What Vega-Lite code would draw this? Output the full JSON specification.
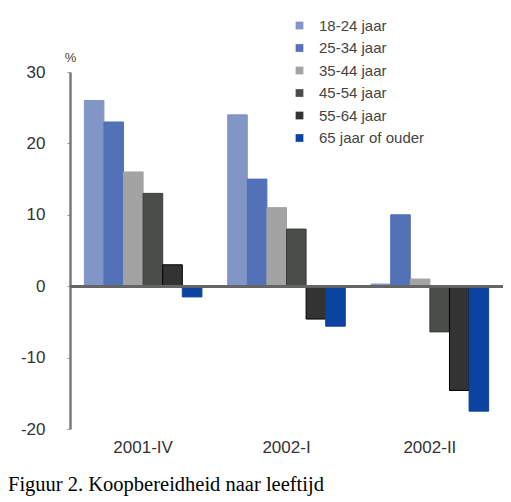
{
  "$schema": "https://vega.github.io/schema/vega-lite/v6.json",
  "autosize": {"type": "none"},
  "width": 433,
  "height": 357,
  "padding": {"left": 70, "top": 72, "right": 8, "bottom": 73},
  "background": "white",
  "config": {"view": {"stroke": null}},
  "title": {
    "text": "Figuur 2. Koopbereidheid naar leeftijd",
    "orient": "bottom",
    "anchor": "start",
    "frame": "group",
    "dx": -62,
    "offset": 20,
    "font": "Liberation Serif",
    "fontSize": 20.5,
    "fontWeight": "normal",
    "color": "#000000"
  },
  "data": {
    "values": [
      {"period": "2001-IV", "age": "18-24 jaar", "value": 26},
      {"period": "2001-IV", "age": "25-34 jaar", "value": 23},
      {"period": "2001-IV", "age": "35-44 jaar", "value": 16},
      {"period": "2001-IV", "age": "45-54 jaar", "value": 13},
      {"period": "2001-IV", "age": "55-64 jaar", "value": 3},
      {"period": "2001-IV", "age": "65 jaar of ouder", "value": -1.5},
      {"period": "2002-I", "age": "18-24 jaar", "value": 24},
      {"period": "2002-I", "age": "25-34 jaar", "value": 15},
      {"period": "2002-I", "age": "35-44 jaar", "value": 11},
      {"period": "2002-I", "age": "45-54 jaar", "value": 8},
      {"period": "2002-I", "age": "55-64 jaar", "value": -4.6},
      {"period": "2002-I", "age": "65 jaar of ouder", "value": -5.6},
      {"period": "2002-II", "age": "18-24 jaar", "value": 0.3},
      {"period": "2002-II", "age": "25-34 jaar", "value": 10},
      {"period": "2002-II", "age": "35-44 jaar", "value": 1},
      {"period": "2002-II", "age": "45-54 jaar", "value": -6.4},
      {"period": "2002-II", "age": "55-64 jaar", "value": -14.6},
      {"period": "2002-II", "age": "65 jaar of ouder", "value": -17.5}
    ]
  },
  "layer": [
    {
      "mark": {"type": "bar", "strokeWidth": 1},
      "encoding": {
        "x": {
          "field": "period",
          "type": "nominal",
          "sort": null,
          "scale": {"paddingInner": 0.18, "paddingOuter": 0.1},
          "axis": {
            "title": null,
            "domain": false,
            "ticks": false,
            "labelAngle": 0,
            "labelPadding": 10,
            "labelFont": "Liberation Sans",
            "labelFontSize": 17,
            "labelColor": "#333333"
          }
        },
        "xOffset": {"field": "age", "type": "nominal", "sort": null, "scale": {"paddingInner": 0, "paddingOuter": 0}},
        "y": {
          "field": "value",
          "type": "quantitative",
          "scale": {"domain": [-20, 30], "nice": false, "zero": false},
          "axis": {
            "values": [-20, -10, 0, 10, 20, 30],
            "labelExpr": "'' + datum.value",
            "grid": false,
            "domainColor": "#7a7a7a",
            "domainWidth": 2.5,
            "tickColor": "#9a9a9a",
            "tickSize": 3,
            "tickWidth": 1,
            "labelPadding": 22,
            "labelFont": "Liberation Sans",
            "labelFontSize": 17,
            "labelColor": "#333333",
            "title": "%",
            "titleAngle": 0,
            "titleX": 0,
            "titleY": -8,
            "titleAlign": "center",
            "titleBaseline": "bottom",
            "titleFont": "Liberation Sans",
            "titleFontSize": 13,
            "titleFontWeight": "normal",
            "titleColor": "#444444"
          }
        },
        "color": {
          "field": "age",
          "type": "nominal",
          "sort": null,
          "scale": {
            "domain": ["18-24 jaar", "25-34 jaar", "35-44 jaar", "45-54 jaar", "55-64 jaar", "65 jaar of ouder"],
            "range": ["#8195c7", "#5271b7", "#a3a3a3", "#4b4d4b", "#333333", "#0c43a0"]
          },
          "legend": {
            "title": null,
            "orient": "none",
            "legendX": 222,
            "legendY": -54,
            "symbolType": "square",
            "symbolSize": 60,
            "symbolStrokeWidth": 0,
            "labelFont": "Liberation Sans",
            "labelFontSize": 15,
            "labelColor": "#444444",
            "labelOffset": 12,
            "rowPadding": 6.5
          }
        },
        "stroke": {
          "field": "age",
          "type": "nominal",
          "sort": null,
          "scale": {
            "domain": ["18-24 jaar", "25-34 jaar", "35-44 jaar", "45-54 jaar", "55-64 jaar", "65 jaar of ouder"],
            "range": ["#8195c7", "#5271b7", "#a3a3a3", "#3a3c3a", "#000000", "#0c43a0"]
          },
          "legend": null
        }
      }
    },
    {
      "mark": {"type": "rule", "color": "#666666", "strokeWidth": 2},
      "encoding": {"y": {"datum": 0}}
    }
  ]
}
